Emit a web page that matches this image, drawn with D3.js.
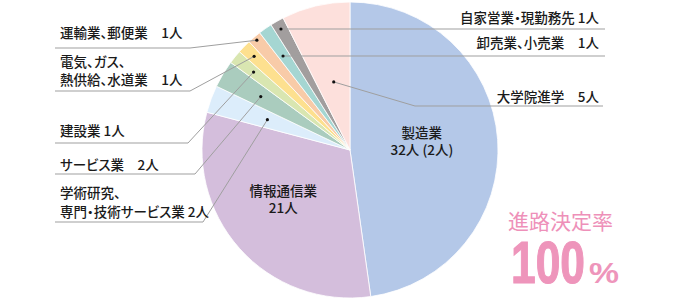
<!DOCTYPE html>
<html>
<head>
<meta charset="utf-8">
<script src="https://cdn.jsdelivr.net/npm/d3@7"></script>
<style>
  body { margin: 0; background: #fff; }
  svg { display: block; font-family: "Noto Sans CJK JP", "Noto Sans", sans-serif; }
  .side { font-feature-settings: "palt"; }
</style>
</head>
<body>
<svg id="chart" width="700" height="300"></svg>
<script>
// data, clockwise from 12 o'clock
var categories = ["製造業", "情報通信業", "学術研究、専門・技術サービス業", "サービス業", "建設業",
    "電気、ガス、熱供給、水道業", "運輸業、郵便業", "卸売業、小売業", "自家営業・現勤務先", "大学院進学"];
var counts = [32, 21, 2, 2, 1, 1, 1, 1, 1, 5];
// label text as it is printed (line breaks)
var labelLines = [
    ["製造業", "32人 (2人)"],
    ["情報通信業", "21人"],
    ["学術研究、", "専門・技術サービス業 2人"],
    ["サービス業　2人"],
    ["建設業 1人"],
    ["電気、ガス、", "熱供給、水道業　1人"],
    ["運輸業、郵便業　1人"],
    ["卸売業、小売業　1人"],
    ["自家営業・現勤務先 1人"],
    ["大学院進学　5人"]
];
var rateTitle = "進路決定率";
var rateValue = "100";

var colors = ["#b4c8e8", "#d4bedc", "#dcedfb", "#aaccbe", "#d9e6b1",
    "#fde08f", "#f8cba8", "#a5d6d2", "#a29e9e", "#fde0dc"];

var cx = 350, cy = 150, radius = 148;

// leader layout (index -> where the label sits)
var leaders = {
    2: { side: "left", dotR: 88, y: 222, elbow: 203, base: [197.5, 216.5] },
    3: { side: "left", dotR: 104, y: 174, elbow: 195, base: [169.5] },
    4: { side: "left", dotR: 124, y: 143, elbow: 188, base: [135.5] },
    5: { side: "left", dotR: 134, y: 91, elbow: 190, base: [66.5, 84.5] },
    6: { side: "left", dotR: 144, y: 48, elbow: 190, base: [38] },
    7: { side: "right", dotR: 117, y: 56, base: [47.5] },
    8: { side: "right", dotR: 140, y: 29, base: [22.5] },
    9: { side: "right", dotR: 70, y: 106, elbow: 415, base: [101.5] }
};

var svg = d3.select("#chart");
var g = svg.append("g").attr("transform", "translate(" + cx + "," + cy + ")");

var pie = d3.pie().sort(null).value(function(d) { return d; });
var arcs = pie(counts);
var arc = d3.arc().innerRadius(0).outerRadius(radius);

g.selectAll("path.slice")
    .data(arcs)
    .enter().append("path")
    .attr("class", "slice")
    .attr("d", arc)
    .attr("fill", function(d, i) { return colors[i]; })
    .attr("stroke", "#fff")
    .attr("stroke-width", 0.8);

function pointAt(angle, r) {
    return [cx + r * Math.sin(angle), cy - r * Math.cos(angle)];
}

// leader lines
var lines = svg.append("g");
arcs.forEach(function(d, i) {
    var L = leaders[i];
    if (!L) return;
    var mid = (d.startAngle + d.endAngle) / 2;
    var p = pointAt(mid, L.dotR);
    var pts;
    if (L.side === "left") {
        pts = [p, [L.elbow, L.y], [55, L.y]];
    } else if (L.elbow) {
        pts = [p, [L.elbow, L.y], [603, L.y]];
    } else {
        pts = [[p[0], L.y], [605, L.y]];
        p = [p[0], L.y];
    }
    lines.append("path")
        .attr("d", d3.line()(pts))
        .attr("fill", "none")
        .attr("stroke", "#9f9f9f")
        .attr("stroke-width", 1);
    lines.append("circle")
        .attr("cx", p[0]).attr("cy", p[1]).attr("r", 1.6)
        .attr("fill", "#111");

    var t = svg.append("text")
        .attr("class", "side")
        .attr("font-size", 13.5)
        .attr("font-weight", 500)
        .attr("fill", "#1a1a1a")
        .attr("text-anchor", L.side === "left" ? "start" : "end");
    labelLines[i].forEach(function(s, k) {
        t.append("tspan")
            .attr("x", L.side === "left" ? 60 : 599)
            .attr("y", L.base[k])
            .text(s);
    });
});

// labels inside the pie
var inner = [
    { i: 0, r: 72, dx: 0 },
    { i: 1, r: 80, dx: -7 }
];
inner.forEach(function(o) {
    var d = arcs[o.i];
    var mid = (d.startAngle + d.endAngle) / 2;
    var p = pointAt(mid, o.r);
    var t = svg.append("text")
        .attr("text-anchor", "middle")
        .attr("font-size", 13.5)
        .attr("font-weight", 500)
        .attr("fill", "#1a1a1a");
    labelLines[o.i].forEach(function(s, k) {
        t.append("tspan")
            .attr("x", p[0] + o.dx)
            .attr("y", p[1] - 7 + k * 17)
            .text(s);
    });
});

// decision rate
svg.append("text")
    .attr("x", 508).attr("y", 229)
    .attr("font-size", 21)
    .attr("fill", "#ee90b9")
    .text(rateTitle);

var big = svg.append("text")
    .attr("y", 283)
    .attr("fill", "#ee95bb")
    .attr("font-weight", "bold")
    .style("font-family", "'Liberation Sans', Arial, sans-serif");
big.append("tspan")
    .attr("x", 511)
    .attr("font-size", 60)
    .attr("stroke", "#ee95bb")
    .attr("stroke-width", 1.2)
    .attr("textLength", 74)
    .attr("lengthAdjust", "spacingAndGlyphs")
    .text(rateValue);
big.append("tspan")
    .attr("x", 589)
    .attr("font-size", 30)
    .attr("textLength", 30)
    .attr("lengthAdjust", "spacingAndGlyphs")
    .text("%");
</script>
</body>
</html>
